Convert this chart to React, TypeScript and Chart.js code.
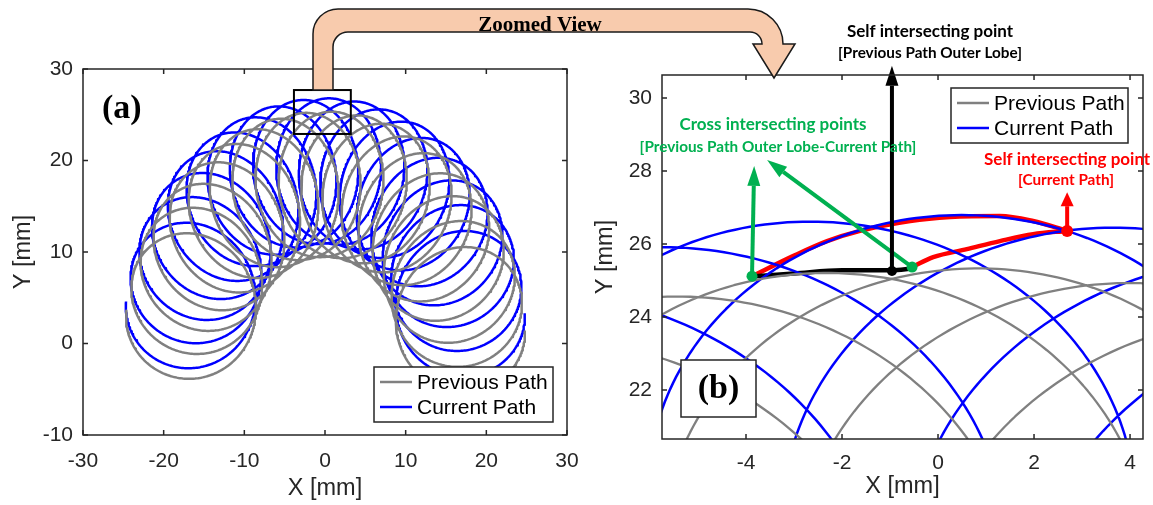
import React, { useEffect, useRef } from "react";
import { Chart, registerables } from "chart.js";

Chart.register(...registerables);

const W = 1153;
const H = 505;
const SANS = "'Liberation Sans', Arial, Helvetica, sans-serif";
const SERIF = "'Liberation Serif', 'Times New Roman', serif";
const NOTE = "Lato, 'Open Sans', sans-serif";
const AXIS_COLOR = "#262626";
const PREV_COLOR = "#808080";
const CURR_COLOR = "#0000ff";
const GREEN = "#00b050";
const RED = "#ff0000";
const PEACH = "#f8cbad";

// Axis ranges and tick values
const xRangeA = [-30, 30];
const yRangeA = [-10, 30];
const xTicksA = [-30, -20, -10, 0, 10, 20, 30];
const yTicksA = [-10, 0, 10, 20, 30];
const xRangeB = [-5.75, 4.27];
const yRangeB = [20.66, 30.63];
const xTicksB = [-4, -2, 0, 2, 4];
const yTicksB = [22, 24, 26, 28, 30];

const legendLabels = ["Previous Path", "Current Path"];

// Trochoidal tool paths: angular position (deg) of every loop centre on the semicircular guide
const currentLoopAngles = [174, 164.5, 155, 145.5, 136, 126.5, 117, 107.5, 98, 88.5, 79, 69.5, 60, 50.5, 41, 31.5, 22, 12.5, 3];
const previousLoopAngles = [173, 163.5, 154, 144.5, 135, 125.5, 116, 106.5, 97, 87.5, 78, 68.5, 59, 49.5, 40, 30.5, 21, 11.5, 2];
const guideCentreCurrent = [0, 2.0];
const guideCentrePrevious = [0, 0.55];
const guideRadius = 16.85;
const loopSemiAxes = [7.95, 7.2]; // radial, tangential

// Window shown enlarged in panel (b)
const zoomWindowX = [-3.85, 3.2];
const zoomWindowY = [22.9, 27.7];

// Highlighted lobes in panel (b)
const currentLobeX = [-3.875, -3.02, -2.31, -1.625, -0.58, 0.25, 1.29, 1.98, 2.69];
const currentLobeY = [25.12, 25.67, 26.08, 26.36, 26.63, 26.74, 26.77, 26.63, 26.36];
const nextLobeX = [-0.54, -0.1, 0.6, 1.29, 1.98, 2.69];
const nextLobeY = [25.37, 25.64, 25.86, 26.08, 26.27, 26.36];
const previousLobeX = [-3.875, -3.0, -2.0, -0.96, -0.54];
const previousLobeY = [25.11, 25.19, 25.28, 25.28, 25.33];

// Intersection points and arrow tips in panel (b)
const crossPointsX = [-3.875, -0.54];
const crossPointsY = [25.12, 25.37];
const crossArrowTipX = [-3.83, -3.56];
const crossArrowTipY = [28.14, 28.3];
const previousSelfPoint = [-0.96, 25.26];
const previousSelfTip = [-0.96, 30.88];
const currentSelfPoint = [2.69, 26.36];
const currentSelfTip = [2.69, 27.42];

type Pt = { x: number; y: number };

function buildPath(angles: number[], centre: number[]): Pt[] {
  const pts: Pt[] = [];
  const perLoop = 260;
  const [radial, tangential] = loopSemiAxes;
  const at = (deg: number, psi: number): Pt => {
    const th = (deg * Math.PI) / 180;
    const c = Math.cos(th);
    const s = Math.sin(th);
    const rad = guideRadius + radial * Math.cos(psi);
    const tan = tangential * Math.sin(psi);
    return { x: centre[0] + rad * c - tan * s, y: centre[1] + rad * s + tan * c };
  };
  for (let k = 0; k < angles.length - 1; k++) {
    for (let j = 0; j < perLoop; j++) {
      const f = j / perLoop;
      pts.push(at(angles[k] + (angles[k + 1] - angles[k]) * f, 2 * Math.PI * f));
    }
  }
  pts.push(at(angles[angles.length - 1], 0));
  return pts;
}

const zip = (xs: number[], ys: number[]): Pt[] => xs.map((x, i) => ({ x, y: ys[i] }));

function pathDataset(label: string, data: Pt[], color: string, width: number) {
  return {
    label,
    data,
    borderColor: color,
    backgroundColor: color,
    borderWidth: width,
    pointRadius: 0,
    pointHoverRadius: 0,
    tension: 0,
    fill: false,
    borderJoinStyle: "round" as const,
  };
}

function lobeDataset(data: Pt[], color: string, width: number) {
  return {
    ...pathDataset("", data, color, width),
    cubicInterpolationMode: "monotone" as const,
    borderCapStyle: "round" as const,
  };
}

function drawFrame(chart: any) {
  const { ctx, chartArea, scales } = chart;
  const { left, right, top, bottom } = chartArea;
  const tl = 5;
  ctx.save();
  ctx.strokeStyle = AXIS_COLOR;
  ctx.lineWidth = 1.5;
  ctx.beginPath();
  scales.x.ticks.forEach((t: any) => {
    const px = scales.x.getPixelForValue(t.value);
    ctx.moveTo(px, bottom);
    ctx.lineTo(px, bottom - tl);
    ctx.moveTo(px, top);
    ctx.lineTo(px, top + tl);
  });
  scales.y.ticks.forEach((t: any) => {
    const py = scales.y.getPixelForValue(t.value);
    ctx.moveTo(left, py);
    ctx.lineTo(left + tl, py);
    ctx.moveTo(right, py);
    ctx.lineTo(right - tl, py);
  });
  ctx.stroke();
  ctx.strokeRect(left, top, right - left, bottom - top);
  ctx.restore();
}

function drawLegend(ctx: CanvasRenderingContext2D, left: number, top: number, w: number, h: number) {
  ctx.save();
  ctx.fillStyle = "#ffffff";
  ctx.fillRect(left, top, w, h);
  ctx.strokeStyle = AXIS_COLOR;
  ctx.lineWidth = 1.5;
  ctx.strokeRect(left, top, w, h);
  const colors = [PREV_COLOR, CURR_COLOR];
  ctx.font = `21px ${SANS}`;
  ctx.textAlign = "left";
  ctx.textBaseline = "middle";
  legendLabels.forEach((label, i) => {
    const y = top + 15 + i * 25;
    ctx.strokeStyle = colors[i];
    ctx.lineWidth = 2.5;
    ctx.beginPath();
    ctx.moveTo(left + 6, y);
    ctx.lineTo(left + 38, y);
    ctx.stroke();
    ctx.fillStyle = "#000000";
    ctx.fillText(label, left + 43, y + 1);
  });
  ctx.restore();
}

function drawArrow(ctx: CanvasRenderingContext2D, x0: number, y0: number, x1: number, y1: number, color: string, width: number, headLen: number, headW: number) {
  const ang = Math.atan2(y1 - y0, x1 - x0);
  const c = Math.cos(ang);
  const s = Math.sin(ang);
  const bx = x1 - headLen * c;
  const by = y1 - headLen * s;
  ctx.save();
  ctx.strokeStyle = color;
  ctx.fillStyle = color;
  ctx.lineWidth = width;
  ctx.beginPath();
  ctx.moveTo(x0, y0);
  ctx.lineTo(bx, by);
  ctx.stroke();
  ctx.beginPath();
  ctx.moveTo(x1, y1);
  ctx.lineTo(bx - (headW / 2) * s, by + (headW / 2) * c);
  ctx.lineTo(bx + (headW / 2) * s, by - (headW / 2) * c);
  ctx.closePath();
  ctx.fill();
  ctx.restore();
}

function drawDot(ctx: CanvasRenderingContext2D, x: number, y: number, r: number, color: string) {
  ctx.save();
  ctx.fillStyle = color;
  ctx.beginPath();
  ctx.arc(x, y, r, 0, Math.PI * 2);
  ctx.fill();
  ctx.restore();
}

function drawText(ctx: CanvasRenderingContext2D, str: string, x: number, y: number, font: string, color: string, align: CanvasTextAlign = "center") {
  ctx.save();
  ctx.font = font;
  ctx.fillStyle = color;
  ctx.textAlign = align;
  ctx.textBaseline = "middle";
  ctx.fillText(str, x, y);
  ctx.restore();
}

function drawZoomArrow(ctx: CanvasRenderingContext2D) {
  ctx.save();
  ctx.beginPath();
  ctx.moveTo(313, 90);
  ctx.lineTo(313, 34);
  ctx.arc(338, 34, 25, Math.PI, -Math.PI / 2);
  ctx.lineTo(748, 9);
  ctx.arc(748, 44, 35, -Math.PI / 2, 0);
  ctx.lineTo(795, 44);
  ctx.lineTo(774, 78);
  ctx.lineTo(753, 44);
  ctx.lineTo(762, 44);
  ctx.arc(750, 44, 12, 0, -Math.PI / 2, true);
  ctx.lineTo(348, 32);
  ctx.arc(348, 47, 15, -Math.PI / 2, Math.PI, true);
  ctx.lineTo(333, 90);
  ctx.closePath();
  ctx.fillStyle = PEACH;
  ctx.fill();
  ctx.strokeStyle = "#1a1a1a";
  ctx.lineWidth = 1.5;
  ctx.stroke();
  ctx.font = `bold 21px ${SERIF}`;
  ctx.fillStyle = "#000000";
  ctx.textAlign = "center";
  ctx.textBaseline = "alphabetic";
  ctx.fillText("Zoomed View", 540, 31);
  ctx.restore();
}

function axisOptions(range: number[], ticks: number[], title: string, horizontal: boolean, size: number, tickPad: number, titlePad: number) {
  return {
    type: "linear" as const,
    min: range[0],
    max: range[1],
    afterBuildTicks: (s: any) => {
      s.ticks = ticks.map((v) => ({ value: v }));
    },
    afterFit: (s: any) => {
      if (horizontal) s.height = size;
      else s.width = size;
    },
    grid: { display: false, drawTicks: false, tickLength: 0 },
    border: { display: false },
    ticks: {
      autoSkip: false,
      maxRotation: 0,
      padding: tickPad,
      color: AXIS_COLOR,
      font: { family: SANS, size: 21 },
    },
    title: {
      display: true,
      text: title,
      color: AXIS_COLOR,
      font: { family: SANS, size: 23.5 },
      padding: horizontal ? { top: 0, bottom: titlePad } : { top: titlePad, bottom: 0 },
    },
  };
}

function baseOptions(padding: any, xr: number[], xt: number[], yr: number[], yt: number[], yWidth: number, xHeight: number, xTickPad: number, xTitlePad: number) {
  return {
    animation: false as const,
    responsive: false,
    maintainAspectRatio: false,
    events: [],
    layout: { padding },
    plugins: { legend: { display: false }, tooltip: { enabled: false } },
    scales: {
      x: axisOptions(xr, xt, "X [mm]", true, xHeight, xTickPad, xTitlePad),
      y: axisOptions(yr, yt, "Y [mm]", false, yWidth, 10, 9),
    },
  };
}

export default function App() {
  const refA = useRef<HTMLCanvasElement>(null);
  const refB = useRef<HTMLCanvasElement>(null);

  useEffect(() => {
    const current = buildPath(currentLoopAngles, guideCentreCurrent);
    const previous = buildPath(previousLoopAngles, guideCentrePrevious);

    const panelA = {
      id: "panelA",
      afterDraw(chart: any) {
        const { ctx, scales, chartArea } = chart;
        drawFrame(chart);
        const x0 = scales.x.getPixelForValue(zoomWindowX[0]);
        const x1 = scales.x.getPixelForValue(zoomWindowX[1]);
        const y0 = scales.y.getPixelForValue(zoomWindowY[1]);
        const y1 = scales.y.getPixelForValue(zoomWindowY[0]);
        ctx.save();
        ctx.strokeStyle = "#000000";
        ctx.lineWidth = 2;
        ctx.strokeRect(x0, y0, x1 - x0, y1 - y0);
        ctx.restore();
        drawText(ctx, "(a)", chartArea.left + 19, chartArea.top + 40, `bold 34px ${SERIF}`, "#000000", "left");
        drawLegend(ctx, 374, 367, 179, 55);
      },
    };

    const panelB = {
      id: "panelB",
      afterDatasetsDraw(chart: any) {
        const { ctx, scales } = chart;
        const px = (v: number) => scales.x.getPixelForValue(v);
        const py = (v: number) => scales.y.getPixelForValue(v);
        crossPointsX.forEach((x, i) => {
          drawArrow(ctx, px(x), py(crossPointsY[i]), px(crossArrowTipX[i]), py(crossArrowTipY[i]), GREEN, 4, 20, 13);
        });
        drawArrow(ctx, px(previousSelfPoint[0]), py(previousSelfPoint[1]), px(previousSelfTip[0]), py(previousSelfTip[1]), "#000000", 4, 20, 13);
        drawArrow(ctx, px(currentSelfPoint[0]), py(currentSelfPoint[1]), px(currentSelfTip[0]), py(currentSelfTip[1]), RED, 4, 14, 13);
        crossPointsX.forEach((x, i) => drawDot(ctx, px(x), py(crossPointsY[i]), 5.5, GREEN));
        drawDot(ctx, px(previousSelfPoint[0]), py(previousSelfPoint[1]), 5, "#000000");
        drawDot(ctx, px(currentSelfPoint[0]), py(currentSelfPoint[1]), 6, RED);
      },
      afterDraw(chart: any) {
        const { ctx } = chart;
        drawFrame(chart);
        drawLegend(ctx, 951, 88, 177, 55);
        ctx.save();
        ctx.fillStyle = "#ffffff";
        ctx.fillRect(681, 360, 75, 57);
        ctx.strokeStyle = AXIS_COLOR;
        ctx.lineWidth = 1.5;
        ctx.strokeRect(681, 360, 75, 57);
        ctx.restore();
        drawText(ctx, "(b)", 718.5, 389, `bold 34px ${SERIF}`, "#000000");
        drawText(ctx, "Self intersecting point", 930, 32, `bold 17px ${NOTE}`, "#000000");
        drawText(ctx, "[Previous Path Outer Lobe]", 930, 53, `bold 15.3px ${NOTE}`, "#000000");
        drawText(ctx, "Cross intersecting points", 773, 125, `bold 17px ${NOTE}`, GREEN);
        drawText(ctx, "[Previous Path Outer Lobe-Current Path]", 778, 147, `bold 15.3px ${NOTE}`, GREEN);
        drawText(ctx, "Self intersecting point", 984, 160, `bold 17px ${NOTE}`, RED, "left");
        drawText(ctx, "[Current Path]", 1066, 180, `bold 15.3px ${NOTE}`, RED);
        drawZoomArrow(ctx);
      },
    };

    const chartA = new Chart(refA.current as HTMLCanvasElement, {
      type: "line",
      data: {
        datasets: [
          pathDataset(legendLabels[0], previous, PREV_COLOR, 2.5),
          pathDataset(legendLabels[1], current, CURR_COLOR, 2.5),
        ],
      },
      options: baseOptions({ left: 0, top: 69, right: W - 567, bottom: 0 }, xRangeA, xTicksA, yRangeA, yTicksA, 83, 70, 14, 2) as any,
      plugins: [panelA],
    });

    const chartB = new Chart(refB.current as HTMLCanvasElement, {
      type: "line",
      data: {
        datasets: [
          pathDataset(legendLabels[0], previous, PREV_COLOR, 2.3),
          pathDataset(legendLabels[1], current, CURR_COLOR, 2.5),
          lobeDataset(zip(previousLobeX, previousLobeY), "#000000", 4.5),
          lobeDataset(zip(currentLobeX, currentLobeY), RED, 4.5),
          lobeDataset(zip(nextLobeX, nextLobeY), RED, 4.5),
        ],
      },
      options: baseOptions({ left: 582, top: 75, right: W - 1143, bottom: 0 }, xRangeB, xTicksB, yRangeB, yTicksB, 80, 66, 12, 4) as any,
      plugins: [panelB],
    });

    return () => {
      chartA.destroy();
      chartB.destroy();
    };
  }, []);

  const layer: React.CSSProperties = { position: "absolute", left: 0, top: 0, width: W, height: H };
  return (
    <div style={{ position: "fixed", left: 0, top: 0, width: W, height: H, background: "#ffffff" }}>
      <canvas ref={refA} width={W} height={H} style={layer} />
      <canvas ref={refB} width={W} height={H} style={layer} />
    </div>
  );
}
